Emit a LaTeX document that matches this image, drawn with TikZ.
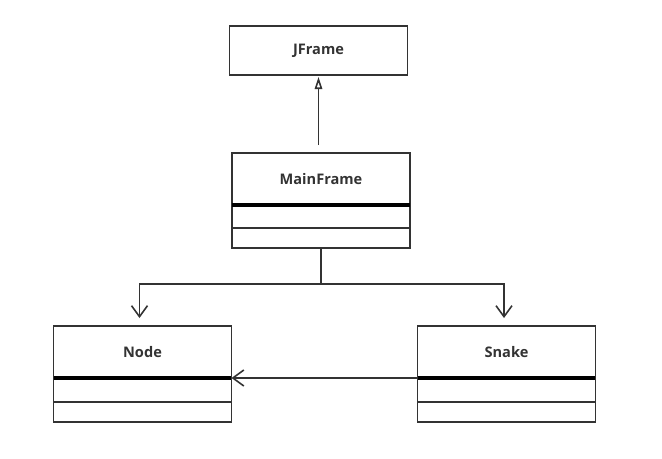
\documentclass[tikz,border=0pt]{standalone}
\usepackage{fontspec}
\setmainfont{Open Sans}
\usetikzlibrary{positioning,arrows.meta}
\definecolor{umlGray}{HTML}{333333}
\tikzstyle{nameBox} = [draw=umlGray,rectangle,line width=0.8pt,inner sep=0pt,outer sep=0pt,minimum width=3.56cm,minimum height=1.04cm,text=umlGray,font=\bfseries\fontsize{8.3}{10}\selectfont]
\tikzstyle{partBox} = [draw=umlGray,rectangle,line width=0.8pt,inner sep=0pt,outer sep=0pt,minimum width=3.56cm]
\tikzstyle{inherit} = [draw=umlGray,line width=0.9pt,-{Triangle[open,length=0.24cm,width=0.15cm]}]
\tikzstyle{assoc} = [draw=umlGray,line width=0.9pt,-{Straight Barb[length=0.22cm,width=0.32cm]}]
\tikzstyle{bar} = [line width=1.8pt]

\begin{document}
\begin{tikzpicture}[x=0.02cm,y=-0.02cm]
			\useasboundingbox (0,0) rectangle (662,458);
			\node[nameBox,minimum height=0.98cm] (jframe) at (318.5,50.5) {JFrame};
			% MainFrame
			\node[nameBox] (mainframe) at (321,179) {MainFrame};
			\node[partBox,minimum height=0.46cm,below=0cm of mainframe] (mainAttr) {};
			\node[partBox,minimum height=0.4cm,below=0cm of mainAttr] (mainOps) {};
			\draw[bar] (mainframe.south west)--(mainframe.south east);
			% Node
			\node[nameBox] (nodeCls) at (142.5,352) {Node};
			\node[partBox,minimum height=0.48cm,below=0cm of nodeCls] (nodeAttr) {};
			\node[partBox,minimum height=0.4cm,below=0cm of nodeAttr] (nodeOps) {};
			\draw[bar] (nodeCls.south west)--(nodeCls.south east);
			% Snake
			\node[nameBox] (snake) at (506.5,352) {Snake};
			\node[partBox,minimum height=0.48cm,below=0cm of snake] (snakeAttr) {};
			\node[partBox,minimum height=0.4cm,below=0cm of snakeAttr] (snakeOps) {};
			\draw[bar] (snake.south west)--(snake.south east);
			
			\coordinate (fork) at (321,284);
			\draw[inherit,shorten <=0.16cm,shorten >=0.04cm] (jframe.south |- mainframe.north)--(jframe.south);
			\draw[assoc,shorten >=0.16cm] (mainOps.south)--(fork)-|([xshift=-0.06cm]nodeCls.north);
			\draw[assoc,shorten >=0.16cm] (fork)-|([xshift=-0.05cm]snake.north);
			\draw[assoc] (snake.south west)--(nodeCls.south east);
		\end{tikzpicture}
\end{document}
